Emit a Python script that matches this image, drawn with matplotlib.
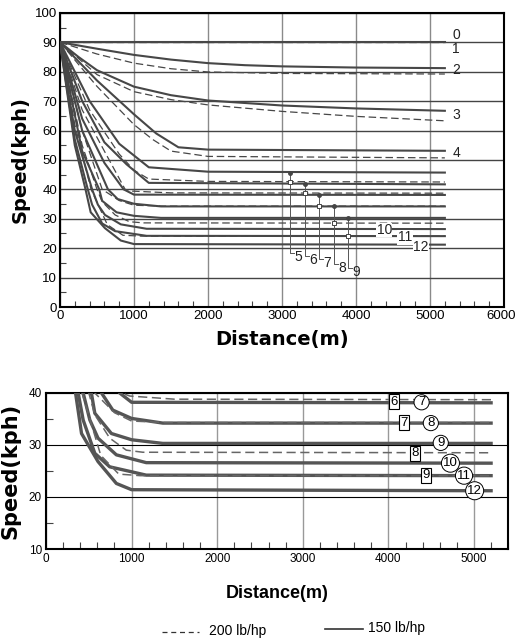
import matplotlib.pyplot as plt
from matplotlib.ticker import MultipleLocator
from matplotlib import font_manager

# curve label -> (distance m, speed kph), 150 lb/hp
solid_curves = {
    0: ([0, 5200], [90, 90]),
    2: ([0, 500, 1000, 1500, 2000, 2500, 3000, 4000, 5200], [90, 87.8, 85.7, 84.1, 82.9, 82.2, 81.8, 81.4, 81.2]),
    3: ([0, 250, 500, 1000, 1500, 2000, 3000, 4000, 5200], [90, 85, 80.5, 74.9, 72, 70.2, 68.5, 67.5, 66.7]),
    4: ([0, 500, 1000, 1300, 1600, 2000, 5200], [90, 77, 65.5, 59, 54.3, 53.5, 53.1]),
    5: ([0, 400, 800, 1200, 2000, 5200], [90, 70, 55.5, 47.5, 46, 45.7]),
    6: ([0, 300, 600, 900, 1200, 5200], [90, 70, 56, 48.5, 42.2, 41.7]),
    7: ([0, 300, 600, 860, 1000, 5200], [90, 64, 49, 40, 38.2, 38.1]),
    8: ([0, 300, 648, 780, 1000, 1365, 5200], [90, 60, 40, 36.7, 35.1, 34.2, 34.2]),
    9: ([0, 300, 530, 570, 764, 1000, 1364, 5200], [90, 53, 40, 36.1, 32.2, 31, 30.3, 30.3]),
    10: ([0, 200, 434, 512, 608, 822, 1171, 5200], [90, 60, 40, 34.8, 31.3, 28.1, 26.6, 26.5]),
    11: ([0, 200, 376, 434, 570, 744, 1171, 5200], [90, 57, 40, 34.8, 28.4, 25.8, 24.2, 24.1]),
    12: ([0, 200, 345, 415, 608, 822, 1000, 5200], [90, 55, 40, 32.2, 26.8, 22.6, 21.4, 21.2]),
}

# 200 lb/hp
dashed_curves = {
    0: ([0, 5200], [90, 90]),
    2: ([0, 500, 1000, 1500, 2000, 3000, 5200], [90, 86, 82.9, 81, 79.9, 79.4, 79.2]),
    3: ([0, 500, 1000, 1500, 2000, 3000, 4000, 5200], [90, 79, 73.2, 70.5, 68.7, 66.5, 64.8, 63.3]),
    4: ([0, 500, 1000, 1250, 1500, 2000, 5200], [90, 75, 62, 57, 53, 51.2, 50.7]),
    5: ([0, 400, 800, 1000, 1200, 2000, 5200], [90, 67, 52, 46.5, 43.5, 42.7, 42.5]),
    6: ([0, 300, 600, 880, 980, 1500, 5200], [90, 67, 53, 40, 39.4, 38.8, 38.7]),
    7: ([0, 300, 570, 800, 1000, 1400, 5200], [90, 60, 40, 36.2, 34.6, 34.3, 34.3]),
    8: ([0, 300, 500, 570, 745, 938, 1131, 5200], [90, 55, 40, 35.8, 31.3, 29, 28.6, 28.5]),
    9: ([0, 200, 420, 640, 850, 1100, 5200], [90, 62, 40, 28, 24.4, 24.1, 24.1]),
}

top_xticks = [0, 1000, 2000, 3000, 4000, 5000, 6000]

# top chart labels at the right end of the curves
end_labels = ['0', '1', '2', '3', '4']
end_label_x = 5300
end_label_y = [92.3, 87.6, 80.4, 65.3, 52.3]

# callouts 5-9: marker distance, solid speed, dashed speed, label position
callout_ids = ['5', '6', '7', '8', '9']
callout_x = [3108, 3311, 3500, 3703, 3892]
callout_solid = [45.7, 41.7, 38.1, 34.2, 30.4]
callout_dashed = [42.5, 38.8, 34.4, 28.5, 24.1]
callout_label_y = [17.1, 16.0, 14.9, 13.2, 12.0]

inline_ids = ['10', '11', '12']
inline_x = [4382, 4662, 4874]
inline_y = [26.2, 23.7, 20.3]

# bottom chart: boxed (200 lb/hp) and circled (150 lb/hp) labels
box_ids = ['6', '7', '8', '9']
box_x = [4066, 4182, 4310, 4438]
box_y = [38.3, 34.3, 28.4, 24.2]
circle_ids = ['7', '8', '9', '10', '11', '12']
circle_x = [4388, 4496, 4612, 4725, 4884, 5008]
circle_y = [38.2, 34.2, 30.4, 26.5, 24.1, 21.2]

names = {f.name for f in font_manager.fontManager.ttflist}
narrow = 'Liberation Sans Narrow' if 'Liberation Sans Narrow' in names else 'Liberation Sans'
plt.rcParams['font.family'] = ['Liberation Sans', 'DejaVu Sans']

line_c = '#474747'
fig = plt.figure(figsize=(5.17, 6.41), dpi=100)

# ---------- top chart ----------
ax = fig.add_axes([0.116, 0.521, 0.859, 0.459])
for d, v in solid_curves.values():
    ax.plot(d, v, color=line_c, lw=1.5, zorder=3)
for d, v in dashed_curves.values():
    ax.plot(d, v, color=line_c, lw=0.9, dashes=(6, 3), zorder=3)

ax.set_xlim(0, 6000)
ax.set_ylim(0, 100)
# last tick label is drawn by hand so it can sit flush with the figure edge
ax.set_xticks(top_xticks, [str(t) for t in top_xticks[:-1]] + [''])
ax.text(top_xticks[-1] - 40, -0.9, str(top_xticks[-1]), fontsize=9.5, ha='center', va='top')
ax.xaxis.set_minor_locator(MultipleLocator(200))
ax.yaxis.set_major_locator(MultipleLocator(10))
ax.yaxis.set_minor_locator(MultipleLocator(5))
ax.grid(axis='y', color='#444444', lw=1.0)
ax.grid(axis='x', color='#8a8a8a', lw=1.0)
ax.set_axisbelow(True)
ax.tick_params(which='both', direction='in', top=False, right=False, labelsize=9.5, pad=2)
ax.tick_params(which='major', length=0)
ax.tick_params(which='minor', length=4, width=0.8, color='#444444')
for s in ax.spines.values():
    s.set_linewidth(1.5)

for lab, y in zip(end_labels, end_label_y):
    ax.text(end_label_x, y, lab, fontsize=10, ha='left', va='center', color='#222222')

for lab, x, vs, vd, ly in zip(callout_ids, callout_x, callout_solid, callout_dashed, callout_label_y):
    ax.plot([x, x, x + 60], [vs, ly + 1.3, ly + 1.3], color='#555555', lw=0.7, zorder=4)
    ax.plot([x], [vs], 'o', ms=2.5, color='#444444', zorder=5)
    ax.plot([x], [vd], 's', ms=3.5, mfc='white', mec='#444444', mew=0.7, zorder=5)
    ax.text(x + 60, ly, lab, fontsize=10, ha='left', va='center', color='#222222')

for lab, x, y in zip(inline_ids, inline_x, inline_y):
    ax.text(x, y, lab, fontsize=10, ha='center', va='center', color='#222222', zorder=6,
            bbox=dict(facecolor='white', edgecolor='none', pad=0.3))

ax.set_xlabel('Distance(m)', fontsize=14, fontweight='heavy', labelpad=6, family='DejaVu Sans')
ax.set_ylabel('Speed(kph)', fontsize=14, fontweight='heavy', labelpad=4, family='DejaVu Sans')

# ---------- bottom chart ----------
bx = fig.add_axes([0.089, 0.1435, 0.894, 0.2435])
for d, v in solid_curves.values():
    bx.plot(d, v, color='#555555', lw=2.4, zorder=3)
for d, v in dashed_curves.values():
    bx.plot(d, v, color='#666666', lw=1.1, dashes=(6, 3), zorder=3)

bx.set_xlim(0, 5400)
bx.set_ylim(10, 40)
bx.xaxis.set_major_locator(MultipleLocator(1000))
bx.xaxis.set_minor_locator(MultipleLocator(200))
bx.yaxis.set_major_locator(MultipleLocator(10))
bx.yaxis.set_minor_locator(MultipleLocator(5))
bx.grid(axis='y', color='black', lw=0.8)
bx.grid(axis='x', color='#999999', lw=1.0)
bx.set_axisbelow(True)
bx.tick_params(which='both', direction='in', top=False, right=False, pad=3)
bx.tick_params(which='major', length=0)
bx.tick_params(which='minor', length=5, width=0.8, color='#444444')
for lbl in bx.get_xticklabels() + bx.get_yticklabels():
    lbl.set_family(narrow)
    lbl.set_fontsize(8.5)
for s in bx.spines.values():
    s.set_linewidth(1.5)

for lab, x, y in zip(box_ids, box_x, box_y):
    bx.text(x, y, lab, fontsize=9.5, family=narrow, ha='center', va='center', zorder=6,
            bbox=dict(boxstyle='square,pad=0.12', facecolor='white', edgecolor='black', lw=0.8))
for lab, x, y in zip(circle_ids, circle_x, circle_y):
    bx.text(x, y, lab, fontsize=9.5, family=narrow, ha='center', va='center', zorder=6,
            bbox=dict(boxstyle='circle,pad=0.12', facecolor='white', edgecolor='black', lw=0.7))

bx.set_xlabel('Distance(m)', fontsize=13, fontweight='bold', family=narrow, labelpad=14)
bx.set_ylabel('Speed(kph)', fontsize=15, fontweight='heavy', family='DejaVu Sans', labelpad=6)

# legend row
fig.lines.append(plt.Line2D([0.313, 0.385], [0.014, 0.014], transform=fig.transFigure,
                            color='#333333', lw=0.9, dashes=(4, 3)))
fig.text(0.404, 0.015, '200 lb/hp', fontsize=10, family=narrow, va='center')
fig.lines.append(plt.Line2D([0.629, 0.702], [0.019, 0.019], transform=fig.transFigure,
                            color='#333333', lw=1.2))
fig.text(0.712, 0.02, '150 lb/hp', fontsize=10, family=narrow, va='center')

fig.savefig('out.png', dpi=100)
